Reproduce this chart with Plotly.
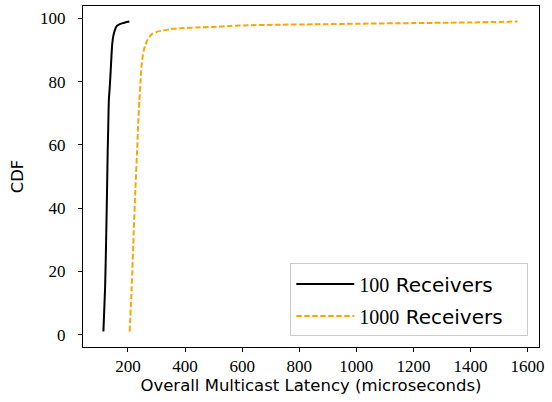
import plotly.graph_objects as go

# Latency values (microseconds) and CDF (%)
lat_100 = [114, 120, 124, 127, 129, 131, 133, 136, 138, 141, 144, 147, 150, 155, 161, 170, 179, 190, 205]
cdf_100 = [1, 15, 32, 47, 58, 66, 74, 78, 81, 86, 90.8, 93.5, 95, 96.5, 97.6, 98.1, 98.4, 98.7, 99]

lat_1000 = [206, 213, 220, 226, 232, 236, 240, 244, 247, 251, 255, 261, 267, 275, 284, 300, 325, 350, 384, 440, 500, 560, 620, 735, 850, 1000, 1200, 1400, 1565]
cdf_1000 = [1, 15, 32, 46, 58, 67, 74, 80, 84.5, 87.5, 89.7, 91.6, 92.9, 94.1, 95, 95.7, 96.2, 96.6, 96.9, 97.1, 97.3, 97.6, 97.8, 98, 98.1, 98.3, 98.5, 98.7, 99]

x_ticks = [200, 400, 600, 800, 1000, 1200, 1400, 1600]
y_ticks = [0, 20, 40, 60, 80, 100]

serif = "Liberation Serif"
sans = "DejaVu Sans"
pad = "&nbsp;" * 3

fig = go.Figure()
fig.add_trace(go.Scatter(
    x=lat_100, y=cdf_100, mode="lines", legendgroup="a",
    line=dict(color="black", width=2, shape="spline", smoothing=0.6),
    name=f'<span style="font-family:{serif}">100</span> Receivers{pad}'))
fig.add_trace(go.Scatter(
    x=lat_1000, y=cdf_1000, mode="lines", legendgroup="b",
    line=dict(color="#FFA500", width=2, dash="5.5px,2.5px", shape="spline", smoothing=0.6),
    name=f'<span style="font-family:{serif}">1000</span> Receivers{pad}'))

axis_common = dict(
    showline=True, linecolor="black", linewidth=1, mirror=True,
    ticks="outside", ticklen=4, tickcolor="black", tickwidth=1,
    showgrid=False, zeroline=False, automargin=False,
    tickfont=dict(family=serif, size=17, color="black"),
)

fig.update_layout(
    width=552, height=402,
    margin=dict(l=83, r=13, t=6, b=55),
    plot_bgcolor="white", paper_bgcolor="white",
    xaxis=dict(range=[42.5, 1640], tickvals=x_ticks, ticklabelstandoff=0,
               title=dict(text="Overall Multicast Latency (microseconds)",
                          font=dict(family=sans, size=16.5, color="black"), standoff=1),
               **axis_common),
    yaxis=dict(range=[-3.9, 103.9], tickvals=y_ticks, ticklabelstandoff=9,
               title=dict(text="CDF", font=dict(family=sans, size=16.5, color="black"), standoff=12),
               **axis_common),
    legend=dict(x=0.9765, y=0.031, xanchor="right", yanchor="bottom",
                bgcolor="white", bordercolor="#CCCCCC", borderwidth=1,
                font=dict(family=sans, size=20, color="black"),
                itemwidth=58, tracegroupgap=3),
    showlegend=True,
)

fig.write_html("out.html", post_script="document.body.style.margin='0';",
               config={"displayModeBar": False})
